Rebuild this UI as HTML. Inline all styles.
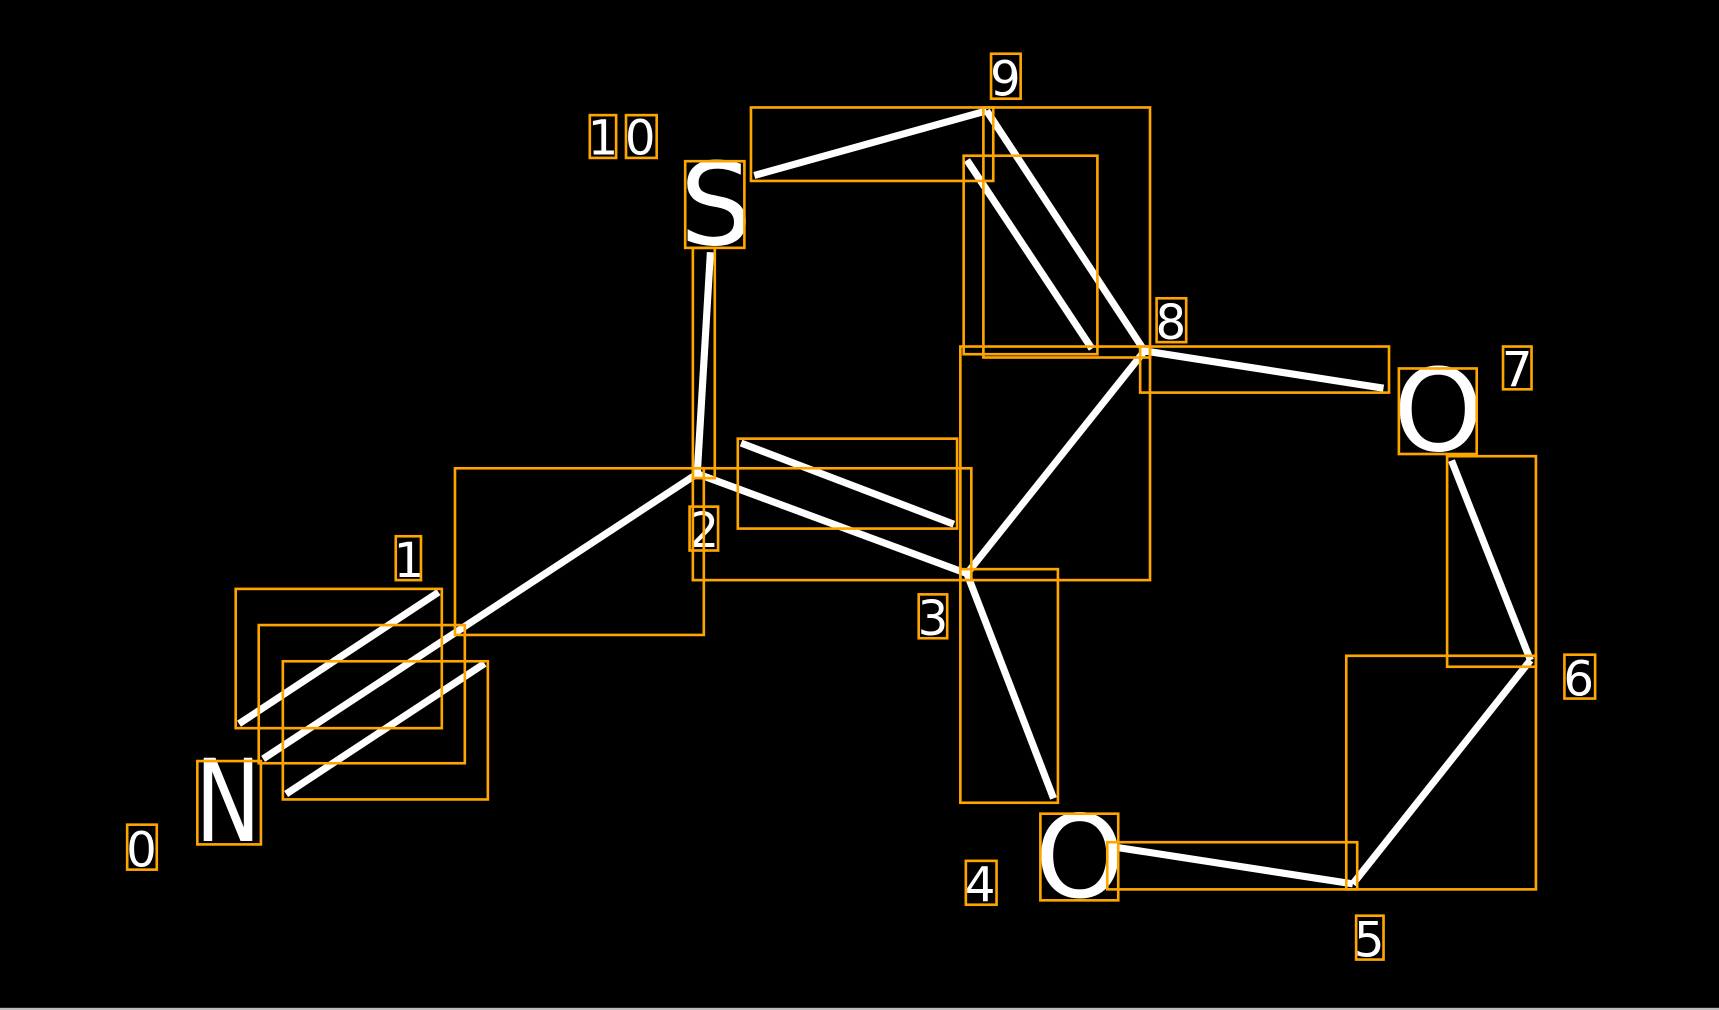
<!DOCTYPE html>
<html><head><style>
html,body{margin:0;padding:0;background:#000;width:1719px;height:1010px;overflow:hidden}
svg{display:block}
text{font-family:"DejaVu Sans","Liberation Sans",sans-serif;fill:#fff}
</style></head><body>
<svg width="1719" height="1010" viewBox="0 0 1568 921" preserveAspectRatio="none">
<rect x="0" y="0" width="1568" height="921" fill="#000"/>
<rect x="0" y="919" width="1568" height="2" fill="#bbb"/>
<g stroke="#fff" stroke-width="6.5" stroke-linecap="butt" fill="none">
<line x1="218" y1="660" x2="400" y2="540"/>
<line x1="240" y1="692" x2="636" y2="432"/>
<line x1="261" y1="724" x2="442" y2="605"/>
<line x1="636" y1="432" x2="648" y2="230"/>
<line x1="636" y1="432" x2="882" y2="523"/>
<line x1="676" y1="404" x2="870" y2="478"/>
<line x1="882" y1="523" x2="1044" y2="320"/>
<line x1="882" y1="523" x2="961" y2="728"/>
<line x1="688" y1="160" x2="900" y2="101"/>
<line x1="900" y1="101" x2="1044" y2="320"/>
<line x1="882" y1="146" x2="996" y2="318"/>
<line x1="1044" y1="320" x2="1262" y2="354"/>
<line x1="1324" y1="420" x2="1396" y2="602"/>
<line x1="1396" y1="602" x2="1234" y2="806"/>
<line x1="1234" y1="806" x2="1014" y2="772"/>
</g>
<g fill="#fff">
<text x="178" y="767" font-size="104" textLength="60" lengthAdjust="spacingAndGlyphs">N</text>
<text x="620" y="223" font-size="104">S</text>
<text x="1271" y="411" font-size="104">O</text>
<text x="944" y="818" font-size="104">O</text>
<g font-size="44">
<text x="115" y="790">0</text>
<text x="359" y="526">1</text>
<text x="628" y="499">2</text>
<text x="837" y="579">3</text>
<text x="880" y="822">4</text>
<text x="1235" y="872">5</text>
<text x="1426" y="634">6</text>
<text x="1370" y="352">7</text>
<text x="1054" y="309">8</text>
<text x="903" y="87">9</text>
<text x="536" y="141">1</text>
<text x="570" y="141">0</text>
</g>
</g>
<g stroke="#FFA500" stroke-width="2.4" fill="none">
<rect x="215" y="537" width="188" height="127"/>
<rect x="236" y="570" width="188" height="126"/>
<rect x="258" y="603" width="187" height="126"/>
<rect x="415" y="427" width="227" height="152"/>
<rect x="632" y="226" width="20" height="210"/>
<rect x="632" y="427" width="254" height="102"/>
<rect x="673" y="400" width="200" height="82"/>
<rect x="685" y="98" width="221" height="67"/>
<rect x="897" y="98" width="152" height="228"/>
<rect x="879" y="142" width="122" height="181"/>
<rect x="876" y="316" width="173" height="213"/>
<rect x="1040" y="316" width="227" height="42"/>
<rect x="876" y="519" width="89" height="213"/>
<rect x="1320" y="416" width="81" height="192"/>
<rect x="1228" y="598" width="173" height="213"/>
<rect x="1010" y="768" width="228" height="43"/>
<rect x="180" y="694" width="58" height="76"/>
<rect x="625" y="147" width="54" height="79"/>
<rect x="1276" y="336" width="71" height="78"/>
<rect x="949" y="742" width="71" height="79"/>
<rect x="116" y="752" width="27" height="41"/>
<rect x="361" y="489" width="23" height="40"/>
<rect x="629" y="462" width="26" height="40"/>
<rect x="838" y="542" width="26" height="40"/>
<rect x="881" y="785" width="28" height="40"/>
<rect x="1237" y="835" width="25" height="40"/>
<rect x="1427" y="597" width="28" height="40"/>
<rect x="1371" y="316" width="26" height="39"/>
<rect x="1055" y="272" width="27" height="40"/>
<rect x="904" y="49" width="27" height="41"/>
<rect x="538" y="105" width="24" height="39"/>
<rect x="571" y="105" width="28" height="39"/>
</g>
</svg>
</body></html>
